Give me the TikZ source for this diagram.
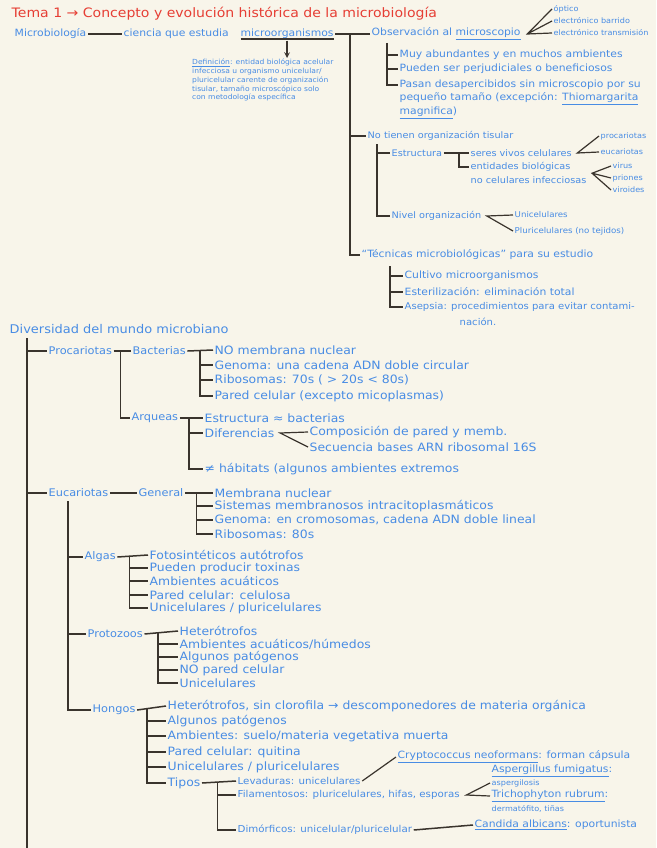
\documentclass[tikz,border=0pt]{standalone}
\usepackage{fontspec}
\setmainfont{DejaVu Sans}[FakeStretch=1.08]
\usetikzlibrary{arrows,positioning,calc}

\definecolor{paper}{RGB}{248,245,234}
\definecolor{ink}{RGB}{72,140,228}
\definecolor{titlered}{RGB}{230,62,52}
\definecolor{pen}{RGB}{58,52,45}

\tikzset{
  txt/.style={anchor=west, inner sep=1.5pt, text=ink, font=\fontsize{10}{12}\selectfont},
  txtb/.style={txt, font=\fontsize{11.5}{13}\selectfont},
  txtm/.style={txt, font=\fontsize{10.5}{12}\selectfont},
  txts/.style={txt, font=\fontsize{9}{11}\selectfont},
  tiny/.style={txt, font=\fontsize{7.5}{9}\selectfont},
  titl/.style={txt, text=titlered, font=\fontsize{13}{15}\selectfont},
  defi/.style={anchor=north west, inner sep=1pt, text=ink, align=left, font=\fontsize{7}{8.8}\selectfont},
  brk/.style={draw=pen, line width=1.5pt},
  fan/.style={draw=pen, line width=1.2pt},
}

\begin{document}
\begin{tikzpicture}[x=1pt,y=-1pt]
% page
\fill[paper] (0,0) rectangle (656,848);
\useasboundingbox (0,0) rectangle (656,848);

% Title
\node[titl] (tema) at (10,14) {Tema 1 → Concepto y evolución histórica de la microbiología};

% Microbiologia line
\node[txt] (micro) at (13,34) {Microbiología};
\node[txt] (ciencia) at (122,34) {ciencia que estudia};
\node[txt] (morg) at (239,34) {microorganismos};
\draw[brk] (micro) -- (ciencia);
\draw[pen, line width=1.2pt] ([xshift=1.5pt,yshift=1.5pt]morg.south west) -- ([xshift=-1.5pt,yshift=1.5pt]morg.south east);

% Definition
\node[defi] (defn) at (191,58) {\underline{Definición}: entidad biológica acelular\\
infecciosa u organismo unicelular/\\
pluricelular carente de organización\\
tisular, tamaño microscópico solo\\
con metodología específica};
\draw[brk, -stealth] (morg.south) -- (defn.north -| morg.south);

% Observacion al microscopio
\node[txt] (obs) at (370,34) {Observación al \underline{microscopio}};
\coordinate (k0) at (350,34);
\draw[brk] (morg.east) -- (obs.west);
\node[tiny] (opt) at (552,9) {óptico};
\node[tiny] (ebar) at (552,21) {electrónico barrido};
\node[tiny] (etra) at (552,33) {electrónico transmisión};
\coordinate (fo) at ([xshift=5pt]obs.east);
\draw[fan] (opt.west) -- (fo) -- (etra.west) (fo) -- (ebar.west);

\node[txt] (muy) at (398,55) {Muy abundantes y en muchos ambientes};
\node[txt] (pued) at (398,69) {Pueden ser perjudiciales o beneficiosos};
\node[txt] (pasan) at (398,85) {Pasan desapercibidos sin microscopio por su};
\node[txt] (pasan2) at (398,99) {pequeño tamaño (excepción: \underline{Thiomargarita}};
\node[txt] (pasan3) at (398,113) {\underline{magnifica})};
\coordinate (k1) at (387,43);
\draw[brk] (k1) |- (pasan.west);
\draw[brk] (k1 |- muy.west) -- (muy.west);
\draw[brk] (k1 |- pued.west) -- (pued.west);

% No tienen organizacion tisular
\node[txts] (notien) at (366,136) {No tienen organización tisular};
\node[txts] (estr) at (390,153) {Estructura};
\node[txts] (seres) at (469,153) {seres vivos celulares};
\node[txts] (ent) at (469,167) {entidades biológicas};
\node[txts] (ent2) at (469,180) {no celulares infecciosas};
\node[tiny] (proca) at (599,136) {procariotas};
\node[tiny] (euca) at (599,152) {eucariotas};
\node[tiny] (virus) at (611,166) {virus};
\node[tiny] (prion) at (611,178) {priones};
\node[tiny] (viro) at (611,190) {viroides};
\node[txts] (nivel) at (390,216) {Nivel organización};
\node[txt, font=\fontsize{8}{9}\selectfont] (unic) at (513,215) {Unicelulares};
\node[txt, font=\fontsize{8}{9}\selectfont] (pluric) at (513,231) {Pluricelulares (no tejidos)};
\coordinate (k2) at (377,144);
\draw[brk] (k0 |- notien.west) -- (notien.west);
\draw[brk] (k2) |- (nivel.west);
\draw[brk] (k2 |- estr.west) -- (estr.west);
\draw[brk] (estr.east) -- (seres.west);
\coordinate (k3) at ($(estr.east)!0.6!(seres.west)$);
\draw[brk] (k3) |- (ent.west);
\coordinate (fs) at ([xshift=4pt]seres.east);
\draw[fan] (proca.west) -- (fs) -- (euca.west);
\coordinate (fe) at ([xshift=4pt]ent2.east |- ent.south);
\draw[fan] (virus.west) -- (fe) -- (viro.west) (fe) -- (prion.west);
\coordinate (fn) at ([xshift=4pt]nivel.east);
\draw[fan] (unic.west) -- (fn) -- (pluric.west);

% Tecnicas microbiologicas
\node[txt] (tecn) at (360,255) {“Técnicas microbiológicas” para su estudio};
\node[txt] (cult) at (403,276) {Cultivo microorganismos};
\node[txt] (est) at (403,292) {Esterilización: eliminación total};
\node[txt, font=\fontsize{9.3}{11}\selectfont] (asep) at (403,307) {Asepsia: procedimientos para evitar contami-};
\node[txt, font=\fontsize{9.3}{11}\selectfont] (asep2) at (458,322) {nación.};
\coordinate (k4) at (390,266);
\draw[brk] (k0) |- (tecn.west);
\draw[brk] (k4) |- (asep.west);
\draw[brk] (k4 |- cult.west) -- (cult.west);
\draw[brk] (k4 |- est.west) -- (est.west);

% Diversidad del mundo microbiano
\node[txt, font=\fontsize{12}{14}\selectfont] (div) at (8,329) {Diversidad del mundo microbiano};
\coordinate (k5) at (27,338);
\coordinate (k5e) at (27,848);
\draw[brk] (k5) -- (k5e);

% Procariotas
\node[txtm] (proc) at (47,351) {Procariotas};
\node[txtm] (bact) at (131,351) {Bacterias};
\node[txtm] (arq) at (130,418) {Arqueas};
\draw[brk] (k5 |- proc.west) -- (proc.west);
\draw[brk] (proc.east) -- (bact.west);
\coordinate (k6) at ($(proc.east)!0.4!(bact.west)$);
\draw[brk] (k6) |- (arq.west);

\node[txtb] (b1) at (213,350) {NO membrana nuclear};
\node[txtb] (b2) at (213,365) {Genoma: una cadena ADN doble circular};
\node[txtb] (b3) at (213,380) {Ribosomas: 70s ( > 20s < 80s)};
\node[txtb] (b4) at (213,396) {Pared celular (excepto micoplasmas)};
\draw[brk] (bact.east) -- (b1.west);
\coordinate (k7) at ($(bact.east)!0.5!(b1.west)$);
\draw[brk] (k7) |- (b4.west);
\draw[brk] (k7 |- b2.west) -- (b2.west);
\draw[brk] (k7 |- b3.west) -- (b3.west);

\node[txtb] (a1) at (203,418) {Estructura ≈ bacterias};
\node[txtb] (a2) at (203,433) {Diferencias};
\node[txtb] (a3) at (203,469) {≠ hábitats (algunos ambientes extremos};
\node[txtb] (comp) at (308,432) {Composición de pared y memb.};
\node[txtb] (secu) at (308,447) {Secuencia bases ARN ribosomal 16S};
\draw[brk] (arq.east) -- (a1.west);
\coordinate (k8) at ($(arq.east)!0.4!(a1.west)$);
\draw[brk] (k8) |- (a3.west);
\draw[brk] (k8 |- a2.west) -- (a2.west);
\coordinate (fd) at ([xshift=4pt]a2.east);
\draw[fan] (comp.west) -- (fd) -- (secu.west);

% Eucariotas
\node[txtm] (euc) at (47,493) {Eucariotas};
\node[txtm] (gen) at (137,493) {General};
\draw[brk] (k5 |- euc.west) -- (euc.west);
\draw[brk] (euc.east) -- (gen.west);

\node[txtb] (g1) at (213,493) {Membrana nuclear};
\node[txtb] (g2) at (213,506) {Sistemas membranosos intracitoplasmáticos};
\node[txtb] (g3) at (213,520) {Genoma: en cromosomas, cadena ADN doble lineal};
\node[txtb] (g4) at (213,534) {Ribosomas: 80s};
\draw[brk] (gen.east) -- (g1.west);
\coordinate (k9) at ($(gen.east)!0.4!(g1.west)$);
\draw[brk] (k9) |- (g4.west);
\draw[brk] (k9 |- g2.west) -- (g2.west);
\draw[brk] (k9 |- g3.west) -- (g3.west);

\node[txtm] (alg) at (83,557) {Algas};
\node[txtm] (prot) at (86,634) {Protozoos};
\node[txtm] (hong) at (91,710) {Hongos};
\coordinate (k10) at (68,501);
\draw[brk] (k10) |- (hong.west);
\draw[brk] (k10 |- alg.west) -- (alg.west);
\draw[brk] (k10 |- prot.west) -- (prot.west);

% Algas
\node[txtb] (al1) at (148,555) {Fotosintéticos autótrofos};
\node[txtb] (al2) at (148,568) {Pueden producir toxinas};
\node[txtb] (al3) at (148,581) {Ambientes acuáticos};
\node[txtb] (al4) at (148,595) {Pared celular: celulosa};
\node[txtb] (al5) at (148,608) {Unicelulares / pluricelulares};
\draw[brk] (alg.east) -- (al1.west);
\coordinate (k11) at ($(alg.east)!0.4!(al1.west)$);
\draw[brk] (k11) |- (al5.west);
\draw[brk] (k11 |- al2.west) -- (al2.west);
\draw[brk] (k11 |- al3.west) -- (al3.west);
\draw[brk] (k11 |- al4.west) -- (al4.west);

% Protozoos
\node[txtb] (p1) at (178,631) {Heterótrofos};
\node[txtb] (p2) at (178,644) {Ambientes acuáticos/húmedos};
\node[txtb] (p3) at (178,657) {Algunos patógenos};
\node[txtb] (p4) at (178,670) {NO pared celular};
\node[txtb] (p5) at (178,683) {Unicelulares};
\draw[brk] (prot.east) -- (p1.west);
\coordinate (k12) at ($(prot.east)!0.4!(p1.west)$);
\draw[brk] (k12) |- (p5.west);
\draw[brk] (k12 |- p2.west) -- (p2.west);
\draw[brk] (k12 |- p3.west) -- (p3.west);
\draw[brk] (k12 |- p4.west) -- (p4.west);

% Hongos
\node[txtb] (h1) at (166,706) {Heterótrofos, sin clorofila → descomponedores de materia orgánica};
\node[txtb] (h2) at (166,721) {Algunos patógenos};
\node[txtb] (h3) at (166,736) {Ambientes: suelo/materia vegetativa muerta};
\node[txtb] (h4) at (166,752) {Pared celular: quitina};
\node[txtb] (h5) at (166,767) {Unicelulares / pluricelulares};
\node[txtb] (h6) at (166,783) {Tipos};
\draw[brk] (hong.east) -- (h1.west);
\coordinate (k13) at ($(hong.east)!0.35!(h1.west)$);
\draw[brk] (k13) |- (h6.west);
\draw[brk] (k13 |- h2.west) -- (h2.west);
\draw[brk] (k13 |- h3.west) -- (h3.west);
\draw[brk] (k13 |- h4.west) -- (h4.west);
\draw[brk] (k13 |- h5.west) -- (h5.west);

% Tipos de hongos
\node[txt, font=\fontsize{9.5}{11}\selectfont] (lev) at (236,781) {Levaduras: unicelulares};
\node[txt, font=\fontsize{9.5}{11}\selectfont] (fil) at (236,795) {Filamentosos: pluricelulares, hifas, esporas};
\node[txt, font=\fontsize{9.5}{11}\selectfont] (dim) at (236,830) {Dimórficos: unicelular/pluricelular};
\draw[brk] (h6.east) -- (lev.west);
\coordinate (k14) at ($(h6.east)!0.45!(lev.west)$);
\draw[brk] (k14) |- (dim.west);
\draw[brk] (k14 |- fil.west) -- (fil.west);

\node[txt] (crypt) at (396,757) {\underline{Cryptococcus neoformans}: forman cápsula};
\node[txt] (asp) at (490,771) {\underline{Aspergillus fumigatus}:};
\node[tiny] (asp2) at (490,783) {aspergilosis};
\node[txt] (tri) at (490,796) {\underline{Trichophyton rubrum}:};
\node[tiny] (tri2) at (490,809) {dermatófito, tiñas};
\node[txt] (cand) at (473,825) {\underline{Candida albicans}: oportunista};
\draw[fan] (lev.east) -- (crypt.west);
\coordinate (ff) at ([xshift=5pt]fil.east);
\draw[fan] (asp2.west) -- (ff) -- (tri.west);
\draw[brk] (dim.east) -- (cand.west);
\end{tikzpicture}
\end{document}
